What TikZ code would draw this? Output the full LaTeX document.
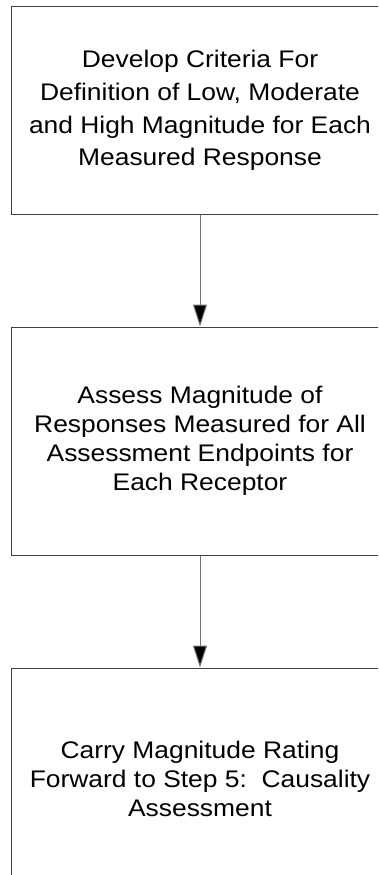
\documentclass[tikz,border=0pt]{standalone}
\usepackage{fontspec}
\setmainfont{Liberation Sans}[FakeStretch=1.1]
\usetikzlibrary{arrows.meta}
\begin{document}
\begin{tikzpicture}[x=1pt,y=1pt,
  stepbox/.style={draw=black!75, line width=1pt, rectangle, minimum width=378pt,
    align=center, inner sep=0pt},
  flow/.style={draw=black!55, line width=1pt,
    -{Triangle[length=22pt,width=14pt,fill=black]}}]
\useasboundingbox (0,0) rectangle (378,-875);
\clip (0,0) rectangle (378,-875);
\node[stepbox, minimum height=207pt, font=\fontsize{24}{32.7}\selectfont] (s1) at (200,-110.5)
  {Develop Criteria For\\Definition of Low, Moderate\\and High Magnitude for Each\\Measured Response};
\node[stepbox, minimum height=228pt, font=\fontsize{24}{29}\selectfont] (s2) at (200,-441)
  {Assess Magnitude of\\Responses Measured for All\\Assessment Endpoints for\\Each Receptor};
\node[stepbox, minimum height=222pt, font=\fontsize{24}{29}\selectfont] (s3) at (200,-779)
  {Carry Magnitude Rating\\Forward to Step 5:\ \ Causality\\Assessment};
\draw[flow] (s1.south) -- (s2.north);
\draw[flow] (s2.south) -- (s3.north);
\end{tikzpicture}
\end{document}
